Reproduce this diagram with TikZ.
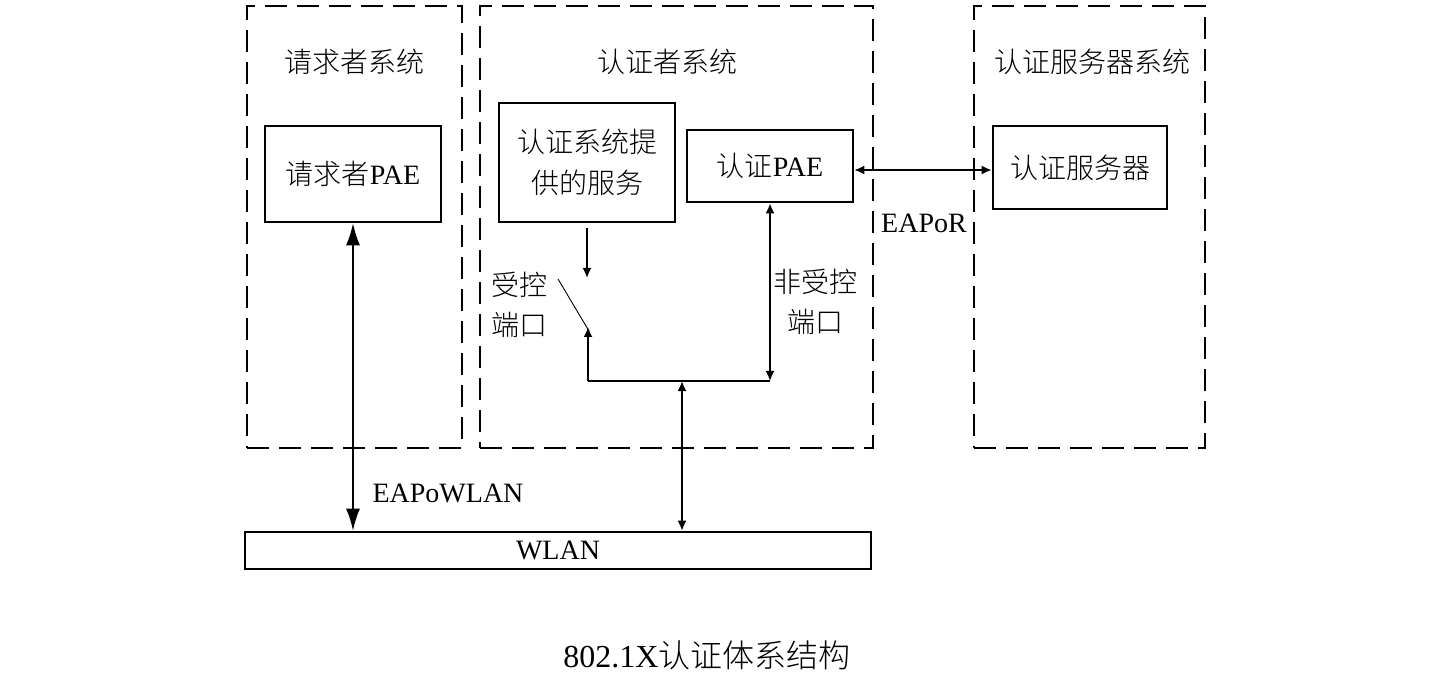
\documentclass[tikz,border=0pt]{standalone}
\usepackage{fontspec}
\setmainfont{Liberation Serif}
\newfontfamily\cjk{Noto Sans CJK SC}[UprightFont={* Light}]
\usetikzlibrary{arrows.meta}
\begin{document}
\begin{tikzpicture}[x=1pt,y=-1pt,
  every node/.style={font=\fontsize{28}{38}\selectfont},
  sysbox/.style={draw, line width=2.6pt, dash pattern=on 22pt off 10pt, inner sep=0pt},
  blockbox/.style={draw, line width=2.6pt, inner sep=0pt, align=center},
  lbl/.style={inner sep=0pt, align=center},
  conn/.style={line width=1.8pt},
  bigtip/.style={conn, {Latex[length=22pt,width=14pt]}-{Latex[length=22pt,width=14pt]}},
  dbl/.style={conn, {Latex[length=10pt,width=9pt]}-{Latex[length=10pt,width=9pt]}},
  sgl/.style={conn, -{Latex[length=10pt,width=9pt]}},
  thin/.style={line width=0.9pt}]
\useasboundingbox (0,0) rectangle (1440,684);
% system boxes
\node[sysbox, minimum width=215pt, minimum height=442pt] (sys1) at (354.5,227) {};
\node[sysbox, minimum width=393pt, minimum height=442pt] (sys2) at (676.5,227) {};
\node[sysbox, minimum width=231pt, minimum height=442pt] (sys3) at (1089.5,227) {};
% titles
\node[lbl] (t1) at (354,62) {\cjk 请求者系统};
\node[lbl] (t2) at (667,62) {\cjk 认证者系统};
\node[lbl] (t3) at (1092,62) {\cjk 认证服务器系统};
% blocks
\node[blockbox, minimum width=176pt, minimum height=96pt] (req) at (353,174) {{\cjk 请求者}PAE};
\node[blockbox, minimum width=176pt, minimum height=119pt, font=\fontsize{28}{41}\selectfont] (svc) at (587,162.5) {\cjk 认证系统提\\\cjk 供的服务};
\node[blockbox, minimum width=166pt, minimum height=72pt] (apae) at (770,166) {{\cjk 认证}PAE};
\node[blockbox, minimum width=174pt, minimum height=83pt] (asrv) at (1080,167.5) {\cjk 认证服务器};
\node[blockbox, minimum width=626pt, minimum height=37pt] (wlan) at (558,550.5) {WLAN};
% coordinates
\coordinate (dtop) at (587,228);
\coordinate (dbot) at (587,278);
\coordinate (swa) at (558,279);
\coordinate (swb) at (589,331);
\coordinate (jl) at (588,381);
\coordinate (uptip) at (588,327);
\coordinate (jr) at (770,381);
\coordinate (jm) at (682,381);
% connectors
\draw[bigtip] (req.south) -- (req.south |- wlan.north);
\draw[dbl] (apae.east |- 0,170) -- (asrv.west |- 0,170);
\draw[sgl] (dtop) -- (dbot);
\draw[thin] (swa) -- (swb);
\draw[sgl] (jl) -- (uptip);
\draw[line width=1.4pt] (jl) -- (jr);
\draw[dbl] (apae.south -| jr) -- (jr);
\draw[dbl] (jm) -- (jm |- wlan.north);
% labels
\node[lbl] (eapowlan) at (448,493) {EAPoWLAN};
\node[lbl] (eapor) at (924,223) {EAPoR};
\node[lbl, font=\fontsize{28}{40}\selectfont] (ctrl) at (519,305) {\cjk 受控\\\cjk 端口};
\node[lbl, font=\fontsize{28}{40}\selectfont] (unctrl) at (815,302) {\cjk 非受控\\\cjk 端口};
\node[lbl, font=\fontsize{32}{38}\selectfont] (cap) at (707,655) {802.1X{\cjk 认证体系结构}};
\end{tikzpicture}
\end{document}
